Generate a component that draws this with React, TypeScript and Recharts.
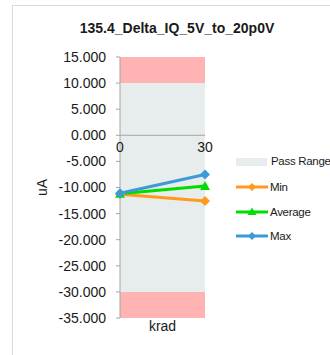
import {
  ComposedChart,
  Area,
  Line,
  XAxis,
  YAxis,
  ReferenceLine,
  ReferenceDot,
} from "recharts";

// chart values
const kradValues = [0, 30];
const minValues = [-11.3, -12.6];
const avgValues = [-11.2, -9.7];
const maxValues = [-11.1, -7.5];
const passRange = [-30, 10];
const axisRange = [-35, 15];
const yTicks = [15, 10, 5, 0, -5, -10, -15, -20, -25, -30, -35];
const xTicks = [0, 30];

const data = kradValues.map((k, i) => ({
  krad: k,
  min: minValues[i],
  avg: avgValues[i],
  max: maxValues[i],
  lowFail: [axisRange[0], passRange[0]],
  pass: passRange,
  highFail: [passRange[1], axisRange[1]],
}));

const FONT = '"Liberation Sans", Arial, sans-serif';
const ORANGE = "#FF9A1E";
const GREEN = "#00DD00";
const BLUE = "#3D9AD6";
const PASS = "#E7ECEC";
const FAIL = "#FFB3B3";

const diamond = (color: string, s: number) => (p: any) => (
  <path
    key={`d-${p.index}`}
    d={`M${p.cx},${p.cy - s} L${p.cx + s},${p.cy} L${p.cx},${p.cy + s} L${p.cx - s},${p.cy} Z`}
    fill={color}
  />
);

const triangle = (color: string, s: number) => (p: any) => (
  <path
    key={`t-${p.index}`}
    d={`M${p.cx},${p.cy - s} L${p.cx + s},${p.cy + s * 0.8} L${p.cx - s},${p.cy + s * 0.8} Z`}
    fill={color}
  />
);

const legendItems = [
  { name: "Min", color: ORANGE, marker: "diamond", top: 187 },
  { name: "Average", color: GREEN, marker: "triangle", top: 212 },
  { name: "Max", color: BLUE, marker: "diamond", top: 236 },
];

const legendText = {
  position: "absolute" as const,
  fontSize: 11.5,
  lineHeight: "16px",
  whiteSpace: "nowrap" as const,
  letterSpacing: -0.3,
};

function LegendBox() {
  return (
    <>
      <div
        style={{ position: "absolute", left: 236, top: 158, width: 31, height: 8, background: PASS }}
      />
      <div style={{ ...legendText, left: 271, top: 153 }}>Pass Range</div>
      {legendItems.map((item) => (
        <div key={item.name}>
          <svg
            width={34}
            height={12}
            style={{ position: "absolute", left: 235, top: item.top - 6 }}
          >
            <line x1={1} y1={6} x2={33} y2={6} stroke={item.color} strokeWidth={3} />
            {item.marker === "diamond" ? (
              <path d="M17,2 L21,6 L17,10 L13,6 Z" fill={item.color} />
            ) : (
              <path d="M17,1.5 L21.5,9 L12.5,9 Z" fill={item.color} />
            )}
          </svg>
          <div style={{ ...legendText, left: 270, top: item.top - 8 }}>{item.name}</div>
        </div>
      ))}
    </>
  );
}

export default function App() {
  return (
    <div
      style={{
        position: "relative",
        width: 330,
        height: 355,
        overflow: "hidden",
        fontFamily: FONT,
        color: "#1a1a1a",
        background: "#fff",
      }}
    >
      <style>{`body{margin:0}`}</style>
      <div
        style={{
          position: "absolute",
          left: 12,
          top: 5,
          width: 340,
          height: 360,
          border: "1px solid #D9D9D9",
        }}
      />
      <div
        style={{
          position: "absolute",
          left: 12,
          width: 330,
          top: 19,
          textAlign: "center",
          fontWeight: "bold",
          fontSize: 14,
          lineHeight: "18px",
        }}
      >
        135.4_Delta_IQ_5V_to_20p0V
      </div>
      <div style={{ position: "absolute", left: 0, top: 0 }}>
        <ComposedChart
          width={330}
          height={355}
          data={data}
          margin={{ top: 57, right: 125, bottom: 7, left: 40 }}
        >
          <XAxis
            dataKey="krad"
            type="number"
            domain={[0, 30]}
            ticks={xTicks}
            tick={false}
            tickLine={false}
            axisLine={false}
            height={30}
            label={{
              value: "krad",
              position: "insideTop",
              offset: 3,
              style: { fontFamily: FONT, fontSize: 14, fill: "#1a1a1a" },
            }}
          />
          <YAxis
            type="number"
            domain={axisRange}
            ticks={yTicks}
            interval={0}
            width={80}
            tickSize={4}
            tickMargin={10}
            tickFormatter={(v: number) => v.toFixed(3)}
            tick={{ fontFamily: FONT, fontSize: 14, fill: "#1a1a1a" }}
            stroke="#A6A6A6"
            label={{
              value: "uA",
              angle: -90,
              position: "insideLeft",
              offset: 2,
              style: { fontFamily: FONT, fontSize: 14, fill: "#1a1a1a", textAnchor: "middle" },
            }}
          />
          <Area
            dataKey="lowFail"
            type="linear"
            stroke="none"
            fill={FAIL}
            fillOpacity={1}
            isAnimationActive={false}
          />
          <Area
            dataKey="pass"
            name="Pass Range"
            type="linear"
            stroke="none"
            fill={PASS}
            fillOpacity={1}
            isAnimationActive={false}
          />
          <Area
            dataKey="highFail"
            type="linear"
            stroke="none"
            fill={FAIL}
            fillOpacity={1}
            isAnimationActive={false}
          />
          <ReferenceLine y={0} stroke="#A6A6A6" strokeWidth={1} />
          {xTicks.map((t) => (
            <ReferenceDot
              key={t}
              x={t}
              y={0}
              r={0}
              stroke="none"
              fill="none"
              label={{
                value: String(t),
                position: "bottom",
                offset: 7,
                style: { fontFamily: FONT, fontSize: 14, fill: "#1a1a1a" },
              }}
            />
          ))}
          <Line
            dataKey="min"
            name="Min"
            type="linear"
            stroke={ORANGE}
            strokeWidth={3}
            dot={diamond(ORANGE, 5)}
            isAnimationActive={false}
          />
          <Line
            dataKey="avg"
            name="Average"
            type="linear"
            stroke={GREEN}
            strokeWidth={3}
            dot={triangle(GREEN, 5)}
            isAnimationActive={false}
          />
          <Line
            dataKey="max"
            name="Max"
            type="linear"
            stroke={BLUE}
            strokeWidth={3}
            dot={diamond(BLUE, 5)}
            isAnimationActive={false}
          />
        </ComposedChart>
      </div>
      <LegendBox />
    </div>
  );
}
